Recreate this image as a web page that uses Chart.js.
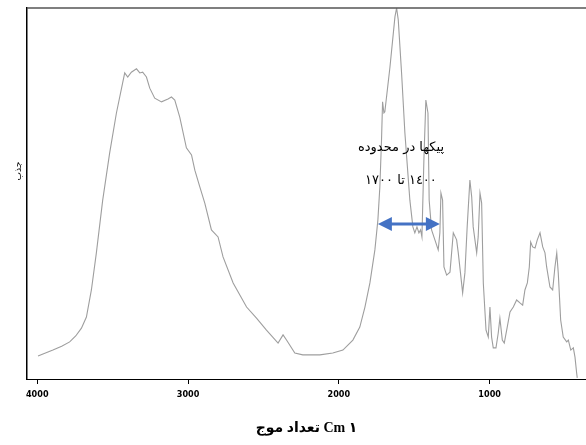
<!DOCTYPE html>
<html>
<head>
<meta charset="utf-8">
<script src="https://cdn.jsdelivr.net/npm/chart.js@4"></script>
<style>
  html, body { margin: 0; padding: 0; background: #fff; }
  #wrap { width: 586px; height: 445px; }
</style>
</head>
<body>
<div id="wrap"><canvas id="chartIR"></canvas></div>
<script>
// wavenumber (cm-1) and absorbance
const wavenumber = [3995, 3896, 3838, 3785, 3745, 3707, 3674, 3641, 3608, 3566, 3520, 3475, 3420, 3400, 3376, 3342, 3320, 3301,
    3276, 3254, 3221, 3176, 3133, 3110, 3088, 3055, 3011, 2977, 2955, 2922, 2889, 2845, 2801, 2768, 2701, 2612,
    2546, 2480, 2403, 2370, 2347, 2292, 2239, 2126, 2040, 1973, 1907, 1861, 1827, 1794, 1761, 1741, 1728, 1717,
    1710, 1701, 1695, 1661, 1628, 1617, 1606, 1584, 1562, 1529, 1509, 1496, 1482, 1469, 1458, 1449, 1436, 1423,
    1409, 1401, 1385, 1363, 1341, 1330, 1323, 1312, 1303, 1285, 1263, 1241, 1219, 1208, 1179, 1164, 1149, 1131,
    1119, 1109, 1086, 1076, 1064, 1053, 1042, 1024, 1009, 998, 987, 976, 958, 943, 932, 916, 903, 887, 865, 843,
    821, 799, 781, 766, 750, 737, 728, 715, 699, 684, 666, 648, 633, 622, 600, 582, 567, 555, 545, 529, 512, 489,
    478, 462, 445, 434, 423, 419];
const absorbance = [6.2, 7.8, 8.8, 10.0, 11.6, 13.7, 16.7, 24.0, 34.0, 48.2, 60.9, 71.7, 82.5, 81.4, 82.7, 83.6, 82.5, 82.7,
    81.4, 78.4, 75.7, 74.7, 75.5, 76.0, 75.2, 70.6, 62.3, 60.4, 56.3, 51.8, 47.4, 40.2, 38.3, 32.9, 25.9, 19.4,
    16.4, 13.2, 9.7, 11.9, 10.5, 7.0, 6.5, 6.5, 7.0, 7.8, 10.5, 14.0, 19.4, 25.9, 34.8, 42.9, 51.8, 64.4,
    74.7, 71.7, 72.0, 84.1, 97.6, 100, 96.8, 82.5, 66.3, 48.2, 41.0, 39.4, 41.0, 39.4, 40.2, 38.3, 59.0, 75.2,
    71.7, 48.2, 40.2, 37.5, 34.8, 39.4, 50.1, 48.2, 30.2, 28.0, 28.8, 39.4, 37.5, 34.0, 23.2, 28.6, 41.0, 53.6,
    49.1, 41.0, 34.0, 38.3, 50.1, 47.4, 25.9, 13.2, 11.3, 19.4, 11.3, 8.4, 8.4, 12.4, 16.4, 10.5, 9.7, 13.2, 18.1, 19.4,
    21.3, 20.5, 19.9, 24.0, 25.9, 30.2, 36.9, 35.6, 35.3, 37.5, 39.4, 35.6, 34.0, 30.2, 24.8, 24.0, 30.2, 34.0, 28.6, 15.9, 11.3, 10.0,
    10.5, 7.8, 8.4, 5.9, 1.6, 0.3];
const xTicks = [4000, 3000, 2000, 1000];

// annotation: peaks between 1400 and 1700
const noteLines = ['پیکها در محدوده', '\u0661\u0664\u0660\u0660 تا \u0661\u0667\u0660\u0660'];
const noteX = 1588;
const noteY = [62.5, 53.6];
const arrowFrom = 1741;
const arrowTo = 1330;
const arrowY = 41.8;

const frameAndNotes = {
    id: 'frameAndNotes',
    afterDraw(chart) {
        const ctx = chart.ctx;
        const area = chart.chartArea;
        const xs = chart.scales.x;
        const ys = chart.scales.y;
        ctx.save();

        // top border
        ctx.strokeStyle = '#555';
        ctx.lineWidth = 1.5;
        ctx.beginPath();
        ctx.moveTo(area.left, area.top);
        ctx.lineTo(area.right, area.top);
        ctx.stroke();

        // y title
        ctx.save();
        ctx.translate(19, 171);
        ctx.rotate(-Math.PI / 2);
        ctx.fillStyle = '#000';
        ctx.font = '9px "DejaVu Sans"';
        ctx.textAlign = 'center';
        ctx.textBaseline = 'middle';
        ctx.fillText('جذب', 0, 0);
        ctx.restore();

        // text
        ctx.fillStyle = '#000';
        ctx.font = '13px "DejaVu Sans"';
        ctx.textAlign = 'center';
        ctx.textBaseline = 'middle';
        ctx.direction = 'rtl';
        noteLines.forEach((t, i) => {
            ctx.fillText(t, xs.getPixelForValue(noteX), ys.getPixelForValue(noteY[i]));
        });

        // double arrow
        const x1 = xs.getPixelForValue(arrowFrom);
        const x2 = xs.getPixelForValue(arrowTo);
        const y = ys.getPixelForValue(arrowY);
        const head = 14, half = 7;
        ctx.fillStyle = '#4472C4';
        ctx.strokeStyle = '#4472C4';
        ctx.lineWidth = 3;
        ctx.beginPath();
        ctx.moveTo(x1 + head - 1, y);
        ctx.lineTo(x2 - head + 1, y);
        ctx.stroke();
        ctx.beginPath();
        ctx.moveTo(x1, y);
        ctx.lineTo(x1 + head, y - half);
        ctx.lineTo(x1 + head, y + half);
        ctx.closePath();
        ctx.fill();
        ctx.beginPath();
        ctx.moveTo(x2, y);
        ctx.lineTo(x2 - head, y - half);
        ctx.lineTo(x2 - head, y + half);
        ctx.closePath();
        ctx.fill();
        ctx.restore();
    }
};

const ctx = document.getElementById('chartIR').getContext('2d');
new Chart(ctx, {
    type: 'line',
    data: {
        datasets: [{
            data: wavenumber.map((w, i) => ({ x: w, y: absorbance[i] })),
            borderColor: '#9e9e9e',
            borderWidth: 1.1,
            pointRadius: 0,
            tension: 0,
            fill: false
        }]
    },
    options: {
        responsive: true,
        maintainAspectRatio: false,
        animation: false,
        layout: { padding: { top: 8, right: 0, bottom: 0, left: 0 } },
        plugins: { legend: { display: false }, tooltip: { enabled: false } },
        scales: {
            x: {
                type: 'linear',
                reverse: true,
                min: 361,
                max: 4068,
                afterBuildTicks: (scale) => { scale.ticks = xTicks.map(v => ({ value: v })); },
                afterFit: (scale) => { scale.height = 66; },
                grid: { display: true, drawOnChartArea: false, drawTicks: true, tickLength: 5, color: '#000' },
                border: { display: true, color: '#000', width: 1 },
                ticks: {
                    color: '#000',
                    padding: 5,
                    maxRotation: 0,
                    font: { family: '"DejaVu Sans Condensed", "DejaVu Sans", sans-serif', size: 9, weight: 'bold' },
                    callback: (v) => String(v)
                },
                title: {
                    display: true,
                    text: 'تعداد موج Cm \u0661',
                    color: '#000',
                    font: { family: '"Liberation Serif", "DejaVu Sans", serif', size: 14, weight: 'bold' },
                    padding: { top: 0, bottom: 8 }
                }
            },
            y: {
                min: 0,
                max: 100,
                afterFit: (scale) => { scale.width = 27; },
                grid: { display: false },
                border: { display: true, color: '#000', width: 1.5 },
                ticks: { display: false }
            }
        }
    },
    plugins: [frameAndNotes]
});
</script>
</body>
</html>
